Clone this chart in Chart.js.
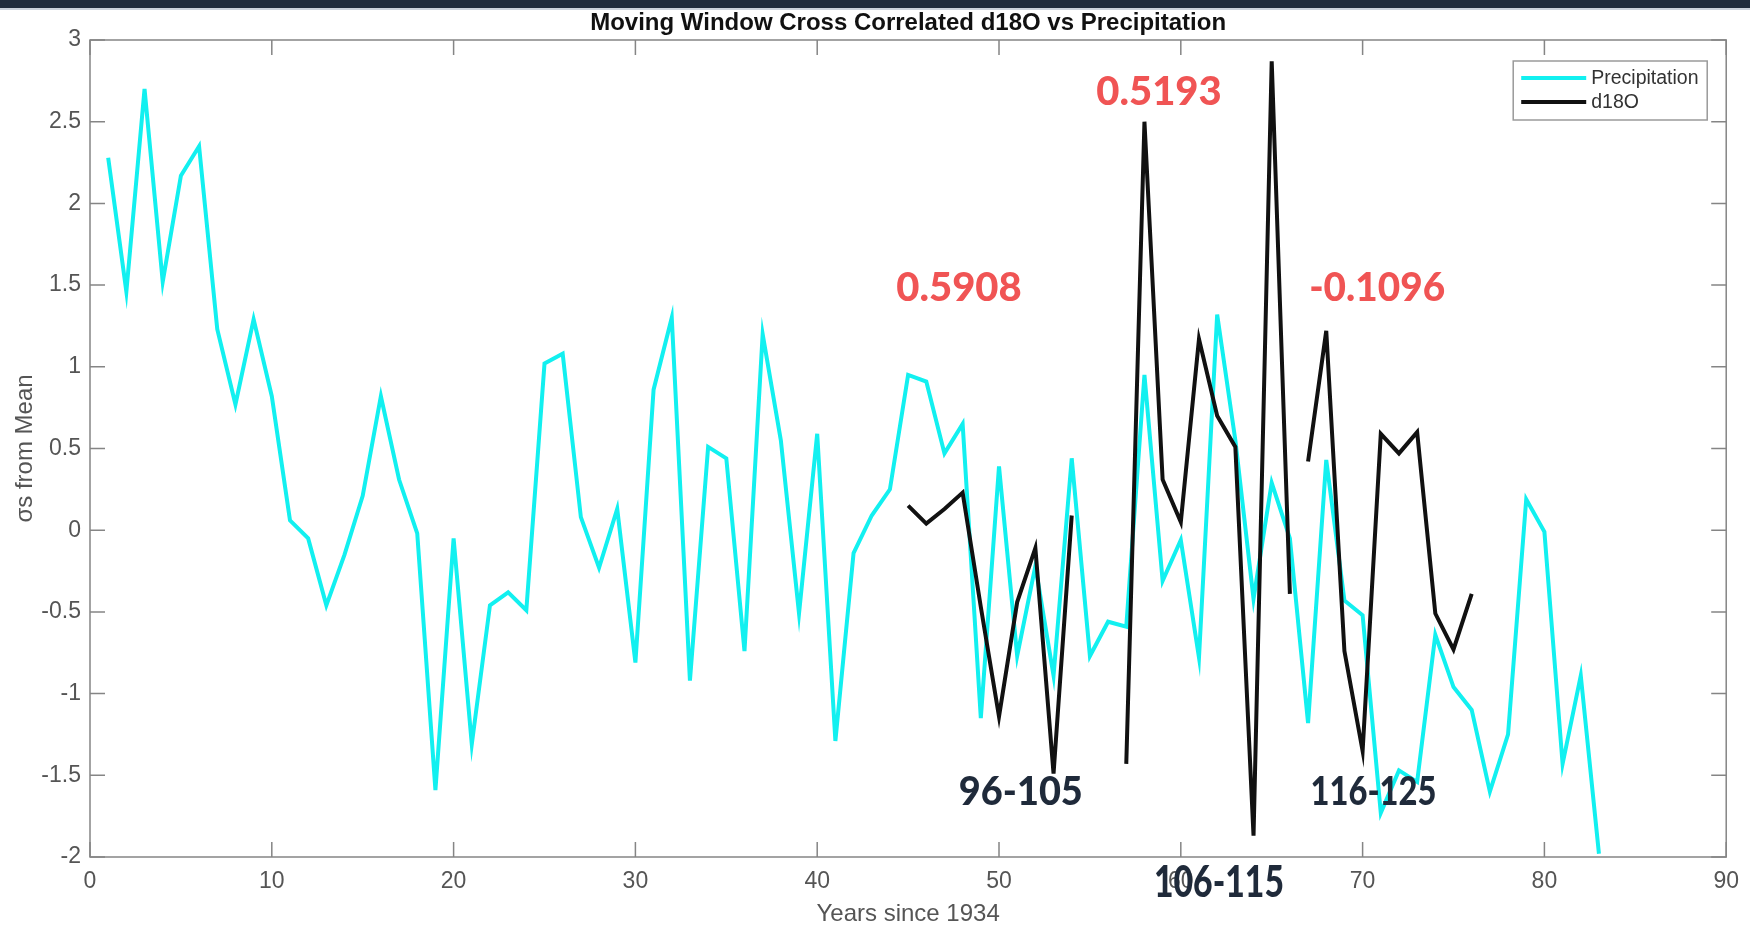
<!DOCTYPE html>
<html>
<head>
<meta charset="utf-8">
<title>Moving Window Cross Correlated d18O vs Precipitation</title>
<script src="https://cdn.jsdelivr.net/npm/chart.js@4.4.1/dist/chart.umd.min.js"></script>
<style>
  html, body { margin: 0; padding: 0; background: #fff; }
  #wrap { width: 1750px; height: 926px; }
</style>
</head>
<body>
<div id="wrap"><canvas id="corrChart" width="1750" height="926"></canvas></div>
<script>
// years since 1934, precipitation in sigmas from the mean
const years = [
   1,  2,  3,  4,  5,  6,  7,  8,  9, 10, 11, 12, 13, 14, 15, 16, 17, 18, 19, 20,
  21, 22, 23, 24, 25, 26, 27, 28, 29, 30, 31, 32, 33, 34, 35, 36, 37, 38, 39, 40,
  41, 42, 43, 44, 45, 46, 47, 48, 49, 50, 51, 52, 53, 54, 55, 56, 57, 58, 59, 60,
  61, 62, 63, 64, 65, 66, 67, 68, 69, 70, 71, 72, 73, 74, 75, 76, 77, 78, 79, 80,
  81, 82, 83
];
const precipitation = [
   2.28,  1.46,  2.70,  1.52,  2.17,  2.35,  1.23,  0.77,  1.29,  0.82,
   0.06, -0.05, -0.46, -0.15,  0.21,  0.82,  0.31, -0.02, -1.59, -0.05,
  -1.31, -0.46, -0.38, -0.49,  1.02,  1.08,  0.08, -0.23,  0.13, -0.81,
   0.86,  1.30, -0.92,  0.51,  0.44, -0.74,  1.20,  0.55, -0.51,  0.59,
  -1.29, -0.14,  0.09,  0.25,  0.95,  0.91,  0.47,  0.65, -1.15,  0.39,
  -0.77, -0.22, -0.89,  0.44, -0.77, -0.56, -0.59,  0.95, -0.31, -0.06,
  -0.78,  1.32,  0.55, -0.42,  0.29, -0.05, -1.18,  0.43, -0.43, -0.52,
  -1.73, -1.47, -1.54, -0.64, -0.96, -1.10, -1.60, -1.25,  0.19, -0.01,
  -1.43, -0.89, -1.98
];

// d18O, three 10-year windows
const windowYears1 = [45, 46, 47, 48, 49, 50, 51, 52, 53, 54];
const d18oWindow1 = [0.15, 0.04, 0.13, 0.23, -0.47, -1.14, -0.44, -0.11, -1.49, 0.09];
const windowYears2 = [57, 58, 59, 60, 61, 62, 63, 64, 65, 66];
const d18oWindow2 = [-1.43, 2.50, 0.31, 0.05, 1.17, 0.70, 0.51, -1.87, 2.87, -0.39];
const windowYears3 = [67, 68, 69, 70, 71, 72, 73, 74, 75, 76];
const d18oWindow3 = [0.42, 1.22, -0.74, -1.35, 0.59, 0.47, 0.60, -0.51, -0.73, -0.39];

const xTicks = [0, 10, 20, 30, 40, 50, 60, 70, 80, 90];
const yTicks = [3, 2.5, 2, 1.5, 1, 0.5, 0, -0.5, -1, -1.5, -2];
const yTickLabels = ['3', '2.5', '2', '1.5', '1', '0.5', '0', '-0.5', '-1', '-1.5', '-2'];

const chartTitle = 'Moving Window Cross Correlated d18O vs Precipitation';

// correlation values and window labels placed on the plot
const notes = [
  { text: '0.5908',  x: 47.8, y: 1.48,  color: '#f05454', size: 40, maxW: 126 },
  { text: '0.5193',  x: 58.8, y: 2.68,  color: '#f05454', size: 40, maxW: 126 },
  { text: '-0.1096', x: 70.8, y: 1.48,  color: '#f05454', size: 40, maxW: 136 },
  { text: '96-105',  x: 51.2, y: -1.6,  color: '#1f2a3a', size: 40, maxW: 124 },
  { text: '106-115', x: 62.1, y: -2.16, color: '#1f2a3a', size: 44, maxW: 130 },
  { text: '116-125', x: 70.6, y: -1.6,  color: '#1f2a3a', size: 40, maxW: 126 }
];

const CYAN = '#12f0f0';
const BLACK = '#111111';
const AXIS = '#858585';

function toPoints(xs, ys) {
  return xs.map((x, i) => ({ x: x, y: ys[i] }));
}

function lineSet(label, xs, ys, color, order) {
  return {
    label: label,
    data: toPoints(xs, ys),
    borderColor: color,
    backgroundColor: color,
    borderWidth: 4,
    borderJoinStyle: 'miter',
    pointRadius: 0,
    tension: 0,
    fill: false,
    order: order
  };
}

const background = {
  id: 'background',
  beforeDraw(chart) {
    const ctx = chart.ctx;
    ctx.save();
    ctx.fillStyle = '#ffffff';
    ctx.fillRect(0, 0, chart.width, chart.height);
    ctx.fillStyle = '#1f2c3c';
    ctx.fillRect(0, 0, chart.width, 8);
    ctx.fillStyle = '#c9d1da';
    ctx.fillRect(0, 8, chart.width, 2);
    ctx.restore();
  }
};

// title centred over the plot box, like MATLAB does it
const plotTitle = {
  id: 'plotTitle',
  afterDraw(chart) {
    const { ctx, chartArea: a } = chart;
    ctx.save();
    ctx.font = 'bold 24px "Liberation Sans", Arial, sans-serif';
    ctx.fillStyle = '#111111';
    ctx.textAlign = 'center';
    ctx.textBaseline = 'middle';
    ctx.fillText(chartTitle, (a.left + a.right) / 2, 23);
    ctx.restore();
  }
};

// MATLAB style box with inward ticks on all four sides
const boxAxes = {
  id: 'boxAxes',
  afterDatasetsDraw(chart) {
    const { ctx, chartArea: a, scales } = chart;
    const len = 15;
    ctx.save();
    ctx.strokeStyle = AXIS;
    ctx.lineWidth = 1.5;
    ctx.strokeRect(a.left, a.top, a.right - a.left, a.bottom - a.top);
    ctx.beginPath();
    xTicks.forEach(v => {
      const px = scales.x.getPixelForValue(v);
      ctx.moveTo(px, a.bottom); ctx.lineTo(px, a.bottom - len);
      ctx.moveTo(px, a.top); ctx.lineTo(px, a.top + len);
    });
    yTicks.forEach(v => {
      const py = scales.y.getPixelForValue(v);
      ctx.moveTo(a.left, py); ctx.lineTo(a.left + len, py);
      ctx.moveTo(a.right, py); ctx.lineTo(a.right - len, py);
    });
    ctx.stroke();
    ctx.restore();
  }
};

const boxLegend = {
  id: 'boxLegend',
  afterDraw(chart) {
    const { ctx, chartArea: a } = chart;
    const w = 194, h = 59;
    const left = a.right - 19 - w, top = a.top + 21;
    ctx.save();
    ctx.fillStyle = '#ffffff';
    ctx.fillRect(left, top, w, h);
    ctx.strokeStyle = '#9a9a9a';
    ctx.lineWidth = 1.5;
    ctx.strokeRect(left, top, w, h);
    const entries = [
      { label: chart.data.datasets[0].label, color: CYAN },
      { label: chart.data.datasets[1].label, color: BLACK }
    ];
    ctx.font = '19.5px "Liberation Sans", Arial, sans-serif';
    ctx.textBaseline = 'middle';
    ctx.textAlign = 'left';
    entries.forEach((e, i) => {
      const y = top + 17 + i * 24;
      ctx.strokeStyle = e.color;
      ctx.lineWidth = 4;
      ctx.beginPath();
      ctx.moveTo(left + 8, y);
      ctx.lineTo(left + 73, y);
      ctx.stroke();
      ctx.fillStyle = '#333333';
      ctx.fillText(e.label, left + 78, y + 1);
    });
    ctx.restore();
  }
};

const noteLabels = {
  id: 'noteLabels',
  afterDraw(chart) {
    const { ctx, scales } = chart;
    ctx.save();
    ctx.textAlign = 'center';
    ctx.textBaseline = 'middle';
    notes.forEach(n => {
      ctx.font = '900 ' + n.size + 'px Lato, "Open Sans", sans-serif';
      ctx.fillStyle = n.color;
      ctx.fillText(n.text, scales.x.getPixelForValue(n.x), scales.y.getPixelForValue(n.y), n.maxW);
    });
    ctx.restore();
  }
};

const tickFont = { family: '"Liberation Sans", Arial, sans-serif', size: 23 };
const axisTitleFont = { family: '"Liberation Sans", Arial, sans-serif', size: 24 };

new Chart(document.getElementById('corrChart'), {
  type: 'line',
  data: {
    datasets: [
      lineSet('Precipitation', years, precipitation, CYAN, 2),
      lineSet('d18O', windowYears1, d18oWindow1, BLACK, 1),
      lineSet('d18O', windowYears2, d18oWindow2, BLACK, 1),
      lineSet('d18O', windowYears3, d18oWindow3, BLACK, 1)
    ]
  },
  options: {
    responsive: false,
    animation: false,
    events: [],
    layout: { padding: { left: 0, right: 19, top: 40, bottom: 0 } },
    plugins: {
      legend: { display: false },
      tooltip: { enabled: false },
      title: { display: false }
    },
    scales: {
      x: {
        type: 'linear',
        position: 'bottom',
        min: 0,
        max: 90,
        afterBuildTicks: s => { s.ticks = xTicks.map(v => ({ value: v })); },
        afterFit: s => { s.height = 69; },
        grid: { display: false, drawTicks: false },
        border: { display: false },
        ticks: {
          font: tickFont,
          color: '#555555',
          padding: 11,
          maxRotation: 0,
          autoSkip: false,
          callback: v => String(v)
        },
        title: {
          display: true,
          text: 'Years since 1934',
          color: '#555555',
          font: axisTitleFont,
          padding: { top: 0, bottom: -3 }
        }
      },
      y: {
        min: -2,
        max: 3,
        afterBuildTicks: s => { s.ticks = yTicks.map(v => ({ value: v })); },
        afterFit: s => { s.width = 90; },
        grid: { display: false, drawTicks: false },
        border: { display: false },
        ticks: {
          font: tickFont,
          color: '#555555',
          padding: 9,
          autoSkip: false,
          callback: v => yTickLabels[yTicks.indexOf(v)]
        },
        title: {
          display: true,
          text: 'σs from Mean',
          color: '#555555',
          font: axisTitleFont,
          padding: { top: 11, bottom: 0 }
        }
      }
    }
  },
  plugins: [background, plotTitle, boxAxes, boxLegend, noteLabels]
});
</script>
</body>
</html>
